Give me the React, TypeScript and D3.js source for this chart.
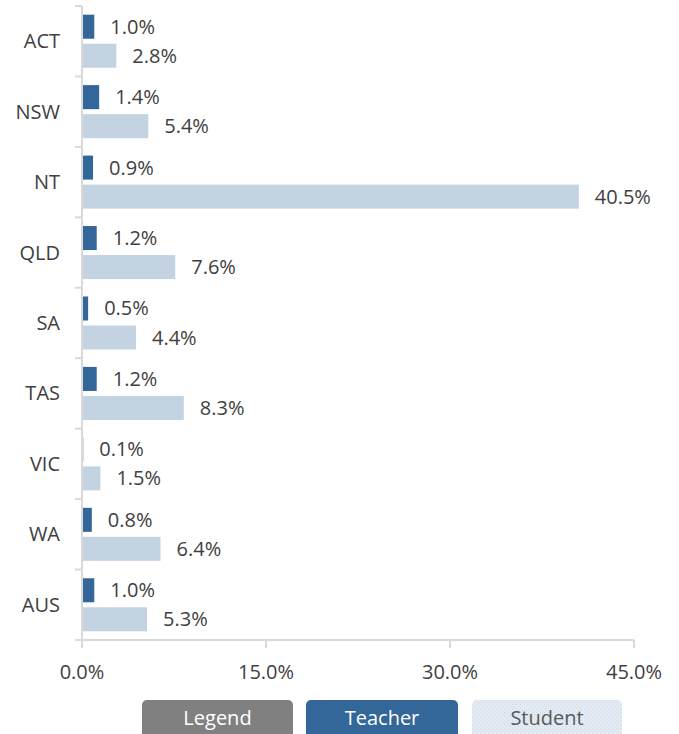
import React from "react";
import * as d3 from "d3";

const categories = ["ACT", "NSW", "NT", "QLD", "SA", "TAS", "VIC", "WA", "AUS"];
const teacher = [1.0, 1.4, 0.9, 1.2, 0.5, 1.2, 0.1, 0.8, 1.0];
const student = [2.8, 5.4, 40.5, 7.6, 4.4, 8.3, 1.5, 6.4, 5.3];
const xTicks = [0, 15, 30, 45];
const seriesNames = ["Teacher", "Student"];
const legendItems = ["Legend", "Teacher", "Student"];

const W = 679;
const H = 734;
const FONT = "'Open Sans', 'Noto Sans', sans-serif";
const TEXT = "#404040";
const AXIS = "#d9d9d9";
const C_TEACHER = "#336699";
const C_STUDENT = "#c3d3e2";
const FS = 20;

export default function App() {
  const x0 = 82, x1 = 634, yTop = 6, yBot = 640;
  const x = d3.scaleLinear().domain([0, 45]).range([x0, x1]);
  const y = d3.scaleBand<string>().domain(categories).range([yTop, yBot]).padding(0);
  const inner = d3
    .scaleBand<string>()
    .domain(seriesNames)
    .range([0, y.bandwidth()])
    .paddingInner(0.172)
    .paddingOuter(0.3);
  const fmt = (v: number) => v.toFixed(1) + "%";
  const data = [teacher, student];
  const colors = [C_TEACHER, C_STUDENT];

  const legendBoxes = [
    { x: 142, w: 151, fill: "#808080", text: "#ffffff" },
    { x: 306, w: 152, fill: C_TEACHER, text: "#ffffff" },
    { x: 472, w: 150, fill: "url(#dots)", text: "#595959" },
  ];

  return (
    <svg
      width={W}
      height={H}
      style={{ position: "absolute", left: 0, top: 0, fontFamily: FONT }}
    >
      <defs>
        <pattern id="dots" width="4" height="4" patternUnits="userSpaceOnUse">
          <rect width="4" height="4" fill="#e3eaf2" />
          <rect x="0" y="0" width="1" height="1" fill="#cfd9e6" />
          <rect x="2" y="2" width="1" height="1" fill="#cfd9e6" />
        </pattern>
      </defs>
      <rect width={W} height={H} fill="#ffffff" />
      {categories.map((c, i) => (
        <g key={c}>
          {seriesNames.map((s, k) => {
            const v = data[k][i];
            const by = (y(c) as number) + (inner(s) as number);
            return (
              <g key={s}>
                <rect
                  x={x(0)}
                  y={by}
                  width={x(v) - x(0)}
                  height={inner.bandwidth()}
                  fill={colors[k]}
                />
                <text
                  x={x(v) + 16}
                  y={by + inner.bandwidth() / 2}
                  dy="0.35em"
                  fontSize={FS}
                  fill={TEXT}
                >
                  {fmt(v)}
                </text>
              </g>
            );
          })}
          <text
            x={60}
            y={(y(c) as number) + y.bandwidth() / 2}
            dy="0.35em"
            textAnchor="end"
            fontSize={FS}
            fill={TEXT}
          >
            {c}
          </text>
        </g>
      ))}
      <line x1={x0} x2={x0} y1={yTop} y2={yBot} stroke={AXIS} strokeWidth={2} />
      {categories.map((c) => (
        <line
          key={"t" + c}
          x1={x0 - 7}
          x2={x0}
          y1={y(c) as number}
          y2={y(c) as number}
          stroke={AXIS}
          strokeWidth={2}
        />
      ))}
      <line x1={x0 - 7} x2={x1} y1={yBot} y2={yBot} stroke={AXIS} strokeWidth={2} />
      {xTicks.map((t) => (
        <g key={"x" + t}>
          <line x1={x(t)} x2={x(t)} y1={yBot} y2={yBot + 8} stroke={AXIS} strokeWidth={2} />
          <text
            x={x(t)}
            y={672}
            dy="0.35em"
            textAnchor="middle"
            fontSize={FS}
            fill={TEXT}
          >
            {fmt(t)}
          </text>
        </g>
      ))}
      {legendItems.map((name, i) => {
        const b = legendBoxes[i];
        return (
          <g key={name}>
            <rect x={b.x} y={700} width={b.w} height={44} rx={5} fill={b.fill} />
            <text
              x={b.x + b.w / 2}
              y={718}
              dy="0.35em"
              textAnchor="middle"
              fontSize={FS}
              fill={b.text}
            >
              {name}
            </text>
          </g>
        );
      })}
    </svg>
  );
}
